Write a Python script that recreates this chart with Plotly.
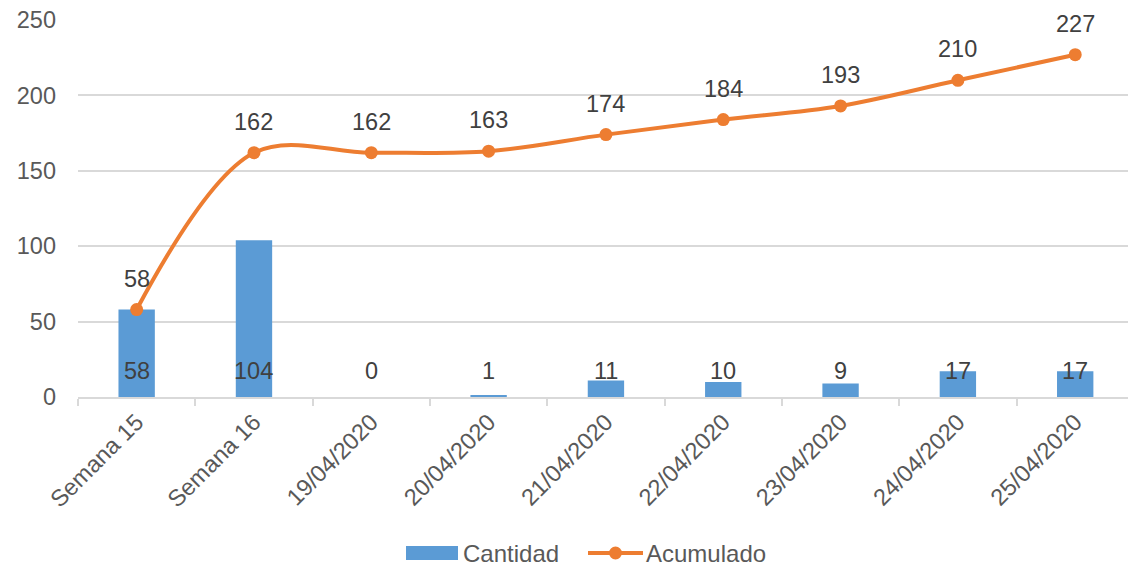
import plotly.graph_objects as go

categorias = ["Semana 15", "Semana 16", "19/04/2020", "20/04/2020", "21/04/2020",
              "22/04/2020", "23/04/2020", "24/04/2020", "25/04/2020"]
cantidad = [58, 104, 0, 1, 11, 10, 9, 17, 17]
acumulado = [58, 162, 162, 163, 174, 184, 193, 210, 227]

AZUL = "#5B9BD5"
NARANJA = "#ED7D31"
FUENTE = "Liberation Sans, Arial, sans-serif"
TAM = 23.5

fig = go.Figure()
fig.add_trace(go.Bar(
    x=categorias, y=cantidad, name="Cantidad",
    marker=dict(color=AZUL, line=dict(width=0)), width=0.31,
))
fig.add_trace(go.Scatter(
    x=categorias, y=acumulado, name="Acumulado",
    mode="lines+markers",
    line=dict(color=NARANJA, width=4, shape="spline", smoothing=1.0),
    marker=dict(color=NARANJA, size=13),
))

anotaciones = []
# etiquetas de la serie acumulada, sobre cada punto
for c, v in zip(categorias, acumulado):
    anotaciones.append(dict(x=c, y=v, text=str(v), showarrow=False,
                            yshift=31, font=dict(family=FUENTE, size=TAM, color="#404040")))
# etiquetas de cantidad, en la base de cada barra
for c, v in zip(categorias, cantidad):
    anotaciones.append(dict(x=c, y=0, text=str(v), showarrow=False,
                            yshift=26, font=dict(family=FUENTE, size=TAM, color="#404040")))

# leyenda inferior
anotaciones.append(dict(xref="paper", yref="paper", x=(461 - 78) / 1050, y=-156 / 377,
                        text="Cantidad", showarrow=False, xanchor="left", yanchor="middle",
                        font=dict(family=FUENTE, size=24, color="#595959")))
anotaciones.append(dict(xref="paper", yref="paper", x=(644 - 78) / 1050, y=-156 / 377,
                        text="Acumulado", showarrow=False, xanchor="left", yanchor="middle",
                        font=dict(family=FUENTE, size=24, color="#595959")))

formas = [
    dict(type="rect", xref="paper", yref="paper",
         x0=(406 - 78) / 1050, x1=(458 - 78) / 1050,
         y0=-149 / 377, y1=-163 / 377, fillcolor=AZUL, line=dict(width=0)),
    dict(type="line", xref="paper", yref="paper",
         x0=(588 - 78) / 1050, x1=(643 - 78) / 1050,
         y0=-156 / 377, y1=-156 / 377, line=dict(color=NARANJA, width=4)),
    dict(type="circle", xref="paper", yref="paper",
         x0=(609 - 78) / 1050, x1=(622 - 78) / 1050,
         y0=-149.5 / 377, y1=-162.5 / 377, fillcolor=NARANJA, line=dict(width=0)),
]

fig.update_layout(
    width=1128, height=568,
    margin=dict(l=78, r=0, t=20, b=171),
    paper_bgcolor="white", plot_bgcolor="white",
    showlegend=False,
    bargap=0.69,
    annotations=anotaciones,
    shapes=formas,
    font=dict(family=FUENTE, size=TAM, color="#595959"),
)
fig.update_xaxes(
    type="category", range=[-0.5, 8.45],
    showline=True, linecolor="#D9D9D9", linewidth=2,
    ticks="outside", tickson="boundaries", ticklen=7, tickcolor="#D9D9D9", tickwidth=2,
    tickangle=-45, tickfont=dict(family=FUENTE, size=TAM, color="#595959"),
    showgrid=False,
)
fig.update_yaxes(
    range=[0, 250], tick0=0, dtick=50,
    showgrid=True, gridcolor="#D9D9D9", gridwidth=2,
    zeroline=False, showline=False,
    ticks="", ticklabelstandoff=21,
    tickfont=dict(family=FUENTE, size=TAM, color="#595959"),
)

fig.write_html("out.html")
